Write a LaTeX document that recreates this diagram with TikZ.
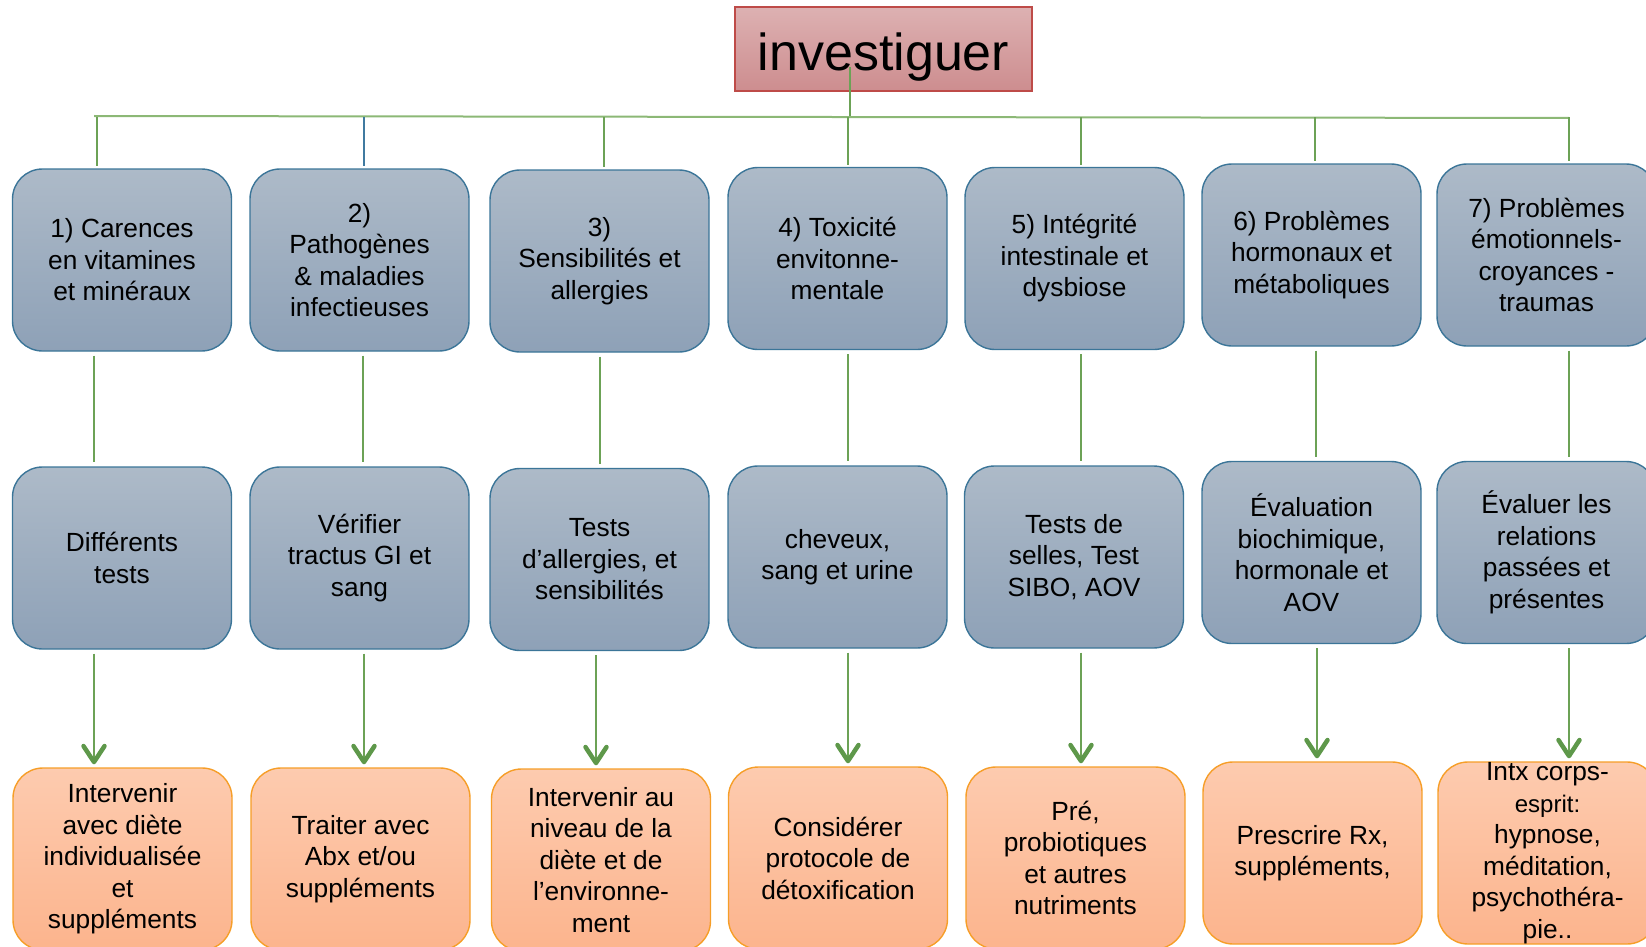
\documentclass[tikz,border=0pt]{standalone}
\usepackage{fontspec}
\setmainfont{Liberation Sans}
\usetikzlibrary{arrows.meta,calc}

\definecolor{blueTop}{RGB}{173,186,200}
\definecolor{blueBot}{RGB}{142,161,183}
\definecolor{blueEdge}{RGB}{59,117,152}
\definecolor{orTop}{RGB}{253,203,175}
\definecolor{orBot}{RGB}{252,180,141}
\definecolor{orEdge}{RGB}{246,158,40}
\definecolor{tiTop}{RGB}{221,177,178}
\definecolor{tiBot}{RGB}{205,141,143}
\definecolor{tiEdge}{RGB}{190,75,72}
\definecolor{linkGreen}{RGB}{108,162,86}
\definecolor{tipGreen}{RGB}{94,152,74}
\definecolor{barGreen}{RGB}{140,184,118}
\definecolor{linkBlue}{RGB}{64,122,160}

\tikzset{
  box/.style={rounded corners=30pt, minimum width=219pt, minimum height=182pt,
    inner sep=0pt, line width=1.4pt, align=center,
    font=\fontsize{26.3}{31.5}\selectfont,
    % full-ascent strut on the first line keeps the text block centred like its line boxes
    execute at begin node={\rule{0pt}{24pt}}},
  problem/.style={box, draw=blueEdge, top color=blueTop, bottom color=blueBot},
  action/.style={box, draw=orEdge, top color=orTop, bottom color=orBot},
  titlebox/.style={draw=tiEdge, line width=1.4pt, top color=tiTop, bottom color=tiBot,
    minimum width=297pt, minimum height=84pt, inner sep=0pt,
    font=\fontsize{52}{60}\selectfont, text height=44pt, text depth=0pt},
  link/.style={draw=linkGreen, line width=1.5pt},
  bar/.style={draw=barGreen, line width=2pt},
  flow/.style={link, -{Straight Barb[length=16pt,width=21pt,line width=4.5pt,round,color=tipGreen]}},
}

\begin{document}
\begin{tikzpicture}[x=1pt,y=-1pt]
\useasboundingbox (0,0) rectangle (1646,947);
\clip (0,0) rectangle (1646,947);

% title
\node[titlebox] (inv) at (883.5,49) {investiguer};

% first row: the seven problem areas
\node[problem] (b1) at (122,260)    {1) Carences\\en vitamines\\et minéraux};
\node[problem] (b2) at (359.5,260)  {2)\\Pathogènes\\\& maladies\\infectieuses};
\node[problem] (b3) at (599.5,261)  {3)\\Sensibilités et\\allergies};
\node[problem] (b4) at (837.5,258.5){4) Toxicité\\envitonne-\\mentale};
\node[problem] (b5) at (1074.5,258.5){5) Intégrité\\intestinale et\\dysbiose};
\node[problem] (b6) at (1311.5,255) {6) Problèmes\\hormonaux et\\métaboliques};
\node[problem] (b7) at (1546.5,255) {7) Problèmes\\émotionnels-\\croyances -\\traumas};

% second row: tests
\node[problem] (c1) at (122,558)    {Différents\\tests};
\node[problem] (c2) at (359.5,558)  {Vérifier\\tractus GI et\\sang};
\node[problem] (c3) at (599.5,559.5){Tests\\d’allergies, et\\sensibilités};
\node[problem] (c4) at (837.5,557)  {cheveux,\\sang et urine};
\node[problem] (c5) at (1074,557)   {Tests de\\selles, Test\\SIBO, AOV};
\node[problem] (c6) at (1311.5,552.5){Évaluation\\biochimique,\\hormonale et\\AOV};
\node[problem] (c7) at (1546.5,552.5){Évaluer les\\relations\\passées et\\présentes};

% third row: interventions
\node[action] (d1) at (122.5,859)  {Intervenir\\avec diète\\individualisée\\et\\suppléments};
\node[action] (d2) at (360.5,859)  {Traiter avec\\Abx et/ou\\suppléments};
\node[action] (d3) at (601,860)    {Intervenir au\\niveau de la\\diète et de\\l’environne-\\ment};
\node[action] (d4) at (838,858)    {Considérer\\protocole de\\détoxification};
\node[action] (d5) at (1075.5,858) {Pré,\\probiotiques\\et autres\\nutriments};
\node[action] (d6) at (1312.5,853) {Prescrire Rx,\\suppléments,};
\node[action] (d7) at (1547.5,853) {Intx corps-\\{\fontsize{24}{31.5}\selectfont esprit:}\\hypnose,\\méditation,\\psychothéra-\\pie..};

% distribution bar under the title
\coordinate (barL) at (94,116);
\coordinate (barR) at (1569,118);
\coordinate (invfoot) at ($(inv.center)+(-33.5,18)$);
\draw[link] (invfoot) -- (invfoot |- barL);
\draw[bar] (barL) -- (barR);

% drops from the bar to the first row
\foreach \n/\x in {1/97,3/604,4/848,5/1081,6/1315,7/1569}{
  \coordinate (t\n) at (\x,0);
  \draw[link, shorten <=1.5pt, shorten >=2pt] (barL -| t\n) -- (b\n.north -| t\n);
}
\coordinate (t2) at (364,0);
\draw[link, draw=linkBlue, shorten <=1.5pt, shorten >=2pt] (barL -| t2) -- (b2.north -| t2);

% first row to second row
\foreach \n/\x in {1/94,2/363,3/600,4/848,5/1081,6/1316,7/1569}{
  \coordinate (m\n) at (\x,0);
  \draw[link, shorten <=4pt, shorten >=4pt] (b\n.south -| m\n) -- (c\n.north -| m\n);
}

% second row to third row
\foreach \n/\x in {1/94,2/364,3/596,4/848,5/1081,6/1317,7/1569}{
  \coordinate (a\n) at (\x,0);
  \draw[flow, shorten <=4pt, shorten >=3pt] (c\n.south -| a\n) -- (d\n.north -| a\n);
}
\end{tikzpicture}
\end{document}
